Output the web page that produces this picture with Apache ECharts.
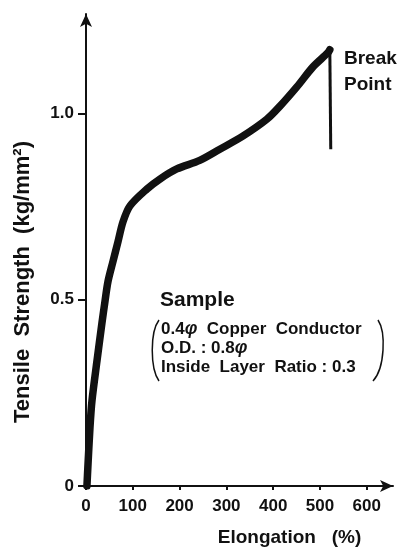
<!DOCTYPE html>
<html>
<head>
<meta charset="utf-8">
<script src="https://cdn.jsdelivr.net/npm/echarts@6/dist/echarts.min.js"></script>
<style>
  html, body { margin: 0; padding: 0; background: #fff; }
  #main { width: 400px; height: 552px; }
</style>
</head>
<body>
<div id="main"></div>
<script>
// elongation (%) and tensile strength (kg/mm2)
var elongation = [2, 4, 8.5, 12.8, 23.5, 34, 40.6, 47, 57.7, 68.4, 79, 94, 130, 158, 194, 243, 286, 335, 386, 414, 451, 485, 517, 521];
var strength = [0, 0.051, 0.157, 0.229, 0.336, 0.437, 0.496, 0.549, 0.603, 0.656, 0.709, 0.752, 0.797, 0.824, 0.851, 0.874, 0.904, 0.939, 0.984, 1.019, 1.072, 1.125, 1.163, 1.171];
// drop after the break point
var breakX = [521, 523];
var breakY = [1.171, 0.904];
var xTicks = [0, 100, 200, 300, 400, 500, 600];
var yTicks = [0, 0.5, 1.0];

var FONT = '"Liberation Sans Narrow", "Liberation Sans", Roboto, sans-serif';

function pairs(xs, ys) {
    return xs.map(function (x, i) { return [x, ys[i]]; });
}

var myChart = echarts.init(document.getElementById('main'));
myChart.setOption({
    animation: false,
    backgroundColor: '#fff',
    grid: { left: 86, right: 7, top: 14, bottom: 63 },
    xAxis: {
        type: 'value',
        min: 0,
        max: 656,
        interval: 100,
        name: 'Elongation   (%)',
        nameLocation: 'middle',
        nameGap: 42,
        nameTextStyle: { fontFamily: FONT, fontWeight: 'bold', fontSize: 19, color: '#111', padding: [0, 0, 0, 100] },
        axisLine: { lineStyle: { color: '#111', width: 2 }, symbol: ['none', 'arrow'], symbolSize: [9, 13] },
        axisTick: { length: 4, lineStyle: { color: '#111', width: 2 } },
        axisLabel: {
            showMaxLabel: false, margin: 12,
            fontFamily: FONT, fontWeight: 'bold', fontSize: 17, color: '#111',
            formatter: function (v) { return xTicks.indexOf(v) >= 0 ? String(v) : ''; }
        },
        splitLine: { show: false }
    },
    yAxis: {
        type: 'value',
        min: 0,
        max: 1.267,
        interval: 0.5,
        name: 'Tensile  Strength  (kg/mm²)',
        nameLocation: 'middle',
        nameRotate: 90,
        nameGap: 52,
        nameTextStyle: { fontFamily: FONT, fontWeight: 'bold', fontSize: 22, color: '#111', padding: [0, 64, 0, 0] },
        axisLine: { lineStyle: { color: '#111', width: 2 }, symbol: ['none', 'arrow'], symbolSize: [9, 13] },
        axisTick: { length: 8, lineStyle: { color: '#111', width: 2 } },
        axisLabel: {
            showMaxLabel: false, margin: 12,
            fontFamily: FONT, fontWeight: 'bold', fontSize: 17, color: '#111',
            formatter: function (v) {
                if (yTicks.indexOf(v) < 0) return '';
                return v === 0 ? '0' : v.toFixed(1);
            }
        },
        splitLine: { show: false }
    },
    series: [
        {
            type: 'line',
            data: pairs(elongation, strength),
            smooth: 0.3,
            symbol: 'none',
            lineStyle: { color: '#111', width: 7.5, cap: 'round', join: 'round' }
        },
        {
            type: 'line',
            data: pairs(breakX, breakY),
            symbol: 'none',
            lineStyle: { color: '#111', width: 3 }
        }
    ],
    graphic: [
        {
            type: 'text', left: 344, top: 46,
            style: { text: 'Break\nPoint', fontFamily: FONT, fontWeight: 'bold', fontSize: 19, lineHeight: 26, fill: '#111' }
        },
        {
            type: 'text', left: 160, top: 290,
            style: { text: 'Sample', fontFamily: FONT, fontWeight: 'bold', fontSize: 21, fill: '#111' }
        },
        {
            type: 'text', left: 161, top: 320,
            style: {
                text: '0.4{p|\u03C6}  Copper  Conductor\nO.D. : 0.8{p|\u03C6}\nInside  Layer  Ratio : 0.3',
                fontFamily: FONT, fontWeight: 'bold', fontSize: 17, lineHeight: 19, fill: '#111',
                rich: { p: { fontFamily: FONT, fontStyle: 'italic', fontWeight: 'bold', fontSize: 18, lineHeight: 19, fill: '#111' } }
            }
        },
        {
            type: 'bezierCurve',
            shape: { x1: 159, y1: 320, cpx1: 150, cpy1: 332, cpx2: 150, cpy2: 368, x2: 159, y2: 381 },
            style: { stroke: '#111', lineWidth: 1.5, fill: null }
        },
        {
            type: 'bezierCurve',
            shape: { x1: 378, y1: 320, cpx1: 386, cpy1: 332, cpx2: 385, cpy2: 368, x2: 373, y2: 381 },
            style: { stroke: '#111', lineWidth: 1.5, fill: null }
        }
    ]
});
</script>
</body>
</html>
